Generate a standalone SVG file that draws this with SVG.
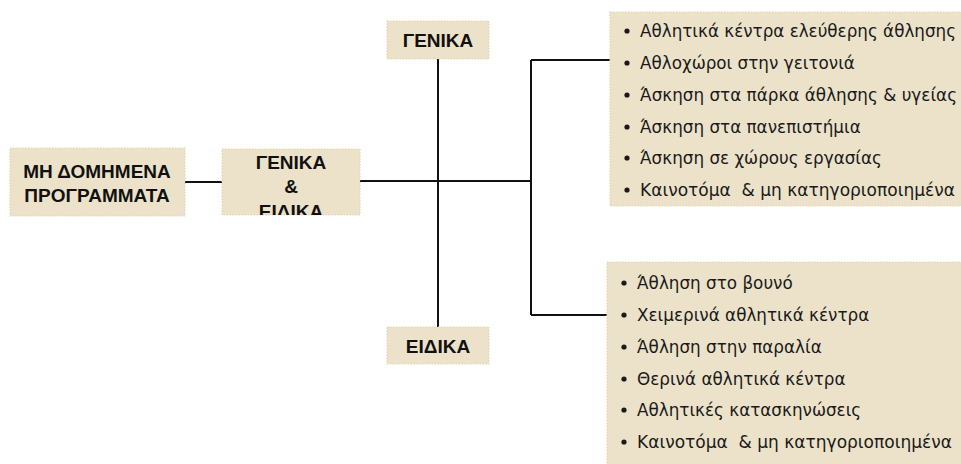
<svg xmlns="http://www.w3.org/2000/svg" width="961" height="464" viewBox="0 0 961 464">
<style>
.box{fill:#ECE2C9;stroke:#E2D6B4;stroke-width:1.2;stroke-dasharray:1.5 1.5}
.hd{font-family:"Liberation Sans",Arial,sans-serif;font-weight:bold;font-size:19px;fill:#111;text-anchor:middle}
.it{font-family:"DejaVu Sans","Liberation Sans",sans-serif;font-size:16.8px;fill:#1a1a1a}
.bl{fill:#1a1a1a}
.ln{stroke:#111;stroke-width:2;fill:none}
</style>
<defs>
<clipPath id="c2"><rect x="222" y="149" width="138" height="66"/></clipPath>
</defs>
<rect width="961" height="464" fill="#fff"/>
<g id="connectors">
<path class="ln" d="M185 182H222"/>
<path class="ln" d="M360 181H531"/>
<path class="ln" d="M438 59V327"/>
<path class="ln" d="M531 60V315M531 60H612M531 315H608"/>
</g>
<g id="n1">
<rect class="box" x="10" y="148" width="175" height="68"/>
<text class="hd" x="97" y="178">ΜΗ ΔΟΜΗΜΕΝΑ</text>
<text class="hd" x="97" y="202">ΠΡΟΓΡΑΜΜΑΤΑ</text>
</g>
<g id="n2">
<rect class="box" x="222" y="149" width="138" height="66"/>
<g clip-path="url(#c2)">
<text class="hd" x="291" y="169">ΓΕΝΙΚΑ</text>
<text class="hd" x="291" y="193">&amp;</text>
<text class="hd" x="291" y="218">ΕΙΔΙΚΑ</text>
</g>
</g>
<g id="n3">
<rect class="box" x="387" y="21" width="102" height="38"/>
<text class="hd" x="438" y="47">ΓΕΝΙΚΑ</text>
</g>
<g id="n4">
<rect class="box" x="387" y="327" width="102" height="37"/>
<text class="hd" x="438" y="353">ΕΙΔΙΚΑ</text>
</g>
<g id="n5">
<rect class="box" x="610" y="12" width="360" height="194"/>
<g class="bl">
<circle cx="627" cy="31" r="2.6"/><circle cx="627" cy="63" r="2.6"/><circle cx="627" cy="95" r="2.6"/>
<circle cx="627" cy="127" r="2.6"/><circle cx="627" cy="158" r="2.6"/><circle cx="627" cy="190" r="2.6"/>
</g>
<g class="it">
<text x="640" y="37" textLength="316" lengthAdjust="spacingAndGlyphs">Αθλητικά κέντρα ελεύθερης άθλησης</text>
<text x="640" y="69">Αθλοχώροι στην γειτονιά</text>
<text x="640" y="101" textLength="317" lengthAdjust="spacingAndGlyphs">Άσκηση στα πάρκα άθλησης &amp; υγείας</text>
<text x="640" y="133">Άσκηση στα πανεπιστήμια</text>
<text x="640" y="164">Άσκηση σε χώρους εργασίας</text>
<text x="640" y="196" xml:space="preserve" textLength="315" lengthAdjust="spacingAndGlyphs">Καινοτόμα  &amp; μη κατηγοριοποιημένα</text>
</g>
</g>
<g id="n6">
<rect class="box" x="607" y="262" width="360" height="210"/>
<g class="bl">
<circle cx="624" cy="283" r="2.6"/><circle cx="624" cy="315" r="2.6"/><circle cx="624" cy="347" r="2.6"/>
<circle cx="624" cy="379" r="2.6"/><circle cx="624" cy="410" r="2.6"/><circle cx="624" cy="442" r="2.6"/>
</g>
<g class="it">
<text x="637" y="289">Άθληση στο βουνό</text>
<text x="637" y="321">Χειμερινά αθλητικά κέντρα</text>
<text x="637" y="353">Άθληση στην παραλία</text>
<text x="637" y="385">Θερινά αθλητικά κέντρα</text>
<text x="637" y="416">Αθλητικές κατασκηνώσεις</text>
<text x="637" y="448" xml:space="preserve" textLength="315" lengthAdjust="spacingAndGlyphs">Καινοτόμα  &amp; μη κατηγοριοποιημένα</text>
</g>
</g>
</svg>
